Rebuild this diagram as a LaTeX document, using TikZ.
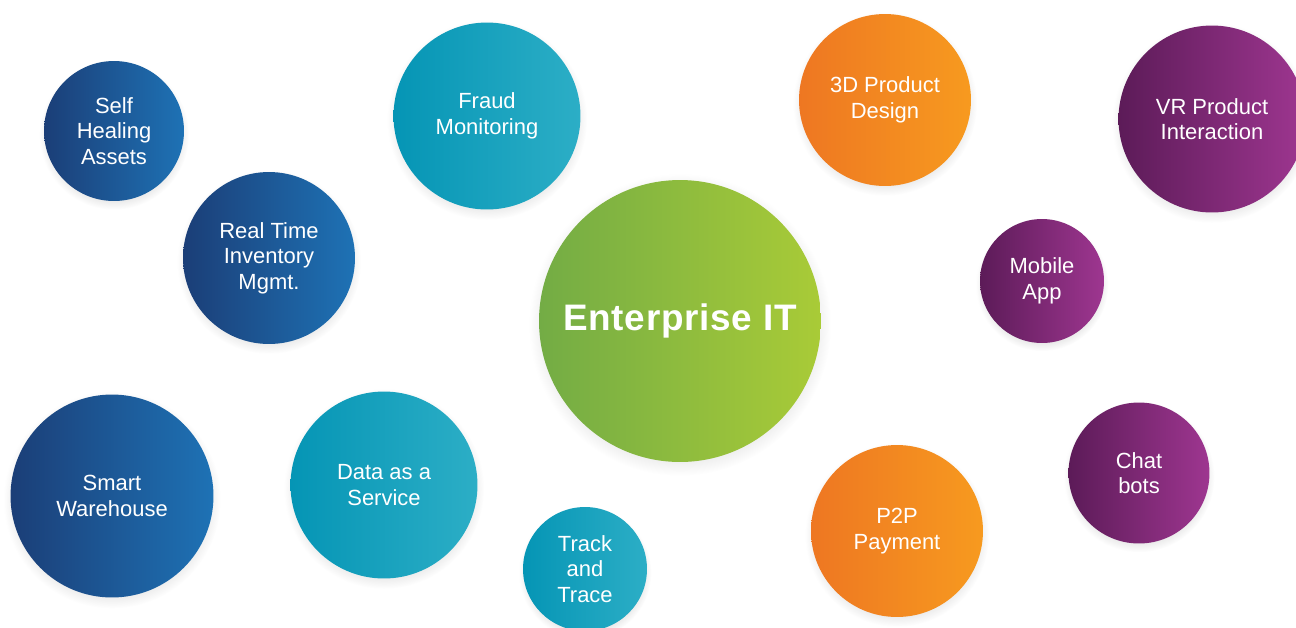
\documentclass[tikz,border=0pt]{standalone}
\usepackage{fontspec}
\setmainfont{Liberation Sans}
\usepackage{tikz}
\usetikzlibrary{shadows}

\definecolor{blueL}{HTML}{1B3E77}
\definecolor{blueM}{HTML}{0A5C9D}
\definecolor{blueR}{HTML}{1E72B5}
\definecolor{tealL}{HTML}{0595B5}
\definecolor{tealR}{HTML}{2CAEC6}
\definecolor{greenL}{HTML}{73AC45}
\definecolor{greenR}{HTML}{A9CB37}
\definecolor{orangeL}{HTML}{EE7722}
\definecolor{orangeR}{HTML}{F79A1F}
\definecolor{purpleL}{HTML}{5C1B58}
\definecolor{purpleR}{HTML}{9E3690}

\tikzset{
  bubble/.style={shape=circle, inner sep=0pt, outer sep=0pt, align=center,
    text=white, font=\fontsize{12.5}{14.5}\selectfont,
    circular drop shadow={shadow xshift=0pt, shadow yshift=-2pt,
      shadow scale=1.07, opacity=0.2}},
  bluebub/.style={bubble, left color=blueL, middle color=blueM, right color=blueR},
  tealbub/.style={bubble, left color=tealL, right color=tealR},
  greenbub/.style={bubble, left color=greenL, right color=greenR},
  orangebub/.style={bubble, left color=orangeL, middle color=orangeL!85!orangeR, right color=orangeR},
  purplebub/.style={bubble, left color=purpleL, right color=purpleR}
}

\begin{document}
\begin{tikzpicture}[x=0.02cm, y=-0.02cm]
  \clip (0,0) rectangle (1296,627);
  \useasboundingbox (0,0) rectangle (1296,627);

  % left side
  \node[bluebub, minimum size=2.8cm] (selfheal) at (114,131) {Self\\Healing\\Assets};
  \node[bluebub, minimum size=3.44cm] (rtinv) at (269,258) {Real Time\\Inventory\\Mgmt.};
  \node[bluebub, minimum size=4.06cm] (warehouse) at (112,496) {Smart\\Warehouse};
  \node[tealbub, minimum size=3.74cm] (fraud) at (487,116) {Fraud\\Monitoring};
  \node[tealbub, minimum size=3.74cm] (daas) at (384,485) {Data as a\\Service};
  \node[tealbub, minimum size=2.48cm] (track) at (585,569) {Track\\and\\Trace};

  % centre
  \node[greenbub, minimum size=5.64cm, font=\fontsize{21}{24}\bfseries\addfontfeatures{LetterSpace=2}] (entit) at (680,321) {Enterprise IT};

  % right side
  \node[orangebub, minimum size=3.44cm] (design) at (885,100) {3D Product\\Design};
  \node[orangebub, minimum size=3.44cm] (p2p) at (897,531) {P2P\\Payment};
  \node[purplebub, minimum size=3.74cm] (vr) at (1212,119) {VR Product\\Interaction};
  \node[purplebub, minimum size=2.48cm] (mobile) at (1042,281) {Mobile\\App};
  \node[purplebub, minimum size=2.82cm] (chat) at (1139,473) {Chat\\bots};

\end{tikzpicture}
\end{document}
